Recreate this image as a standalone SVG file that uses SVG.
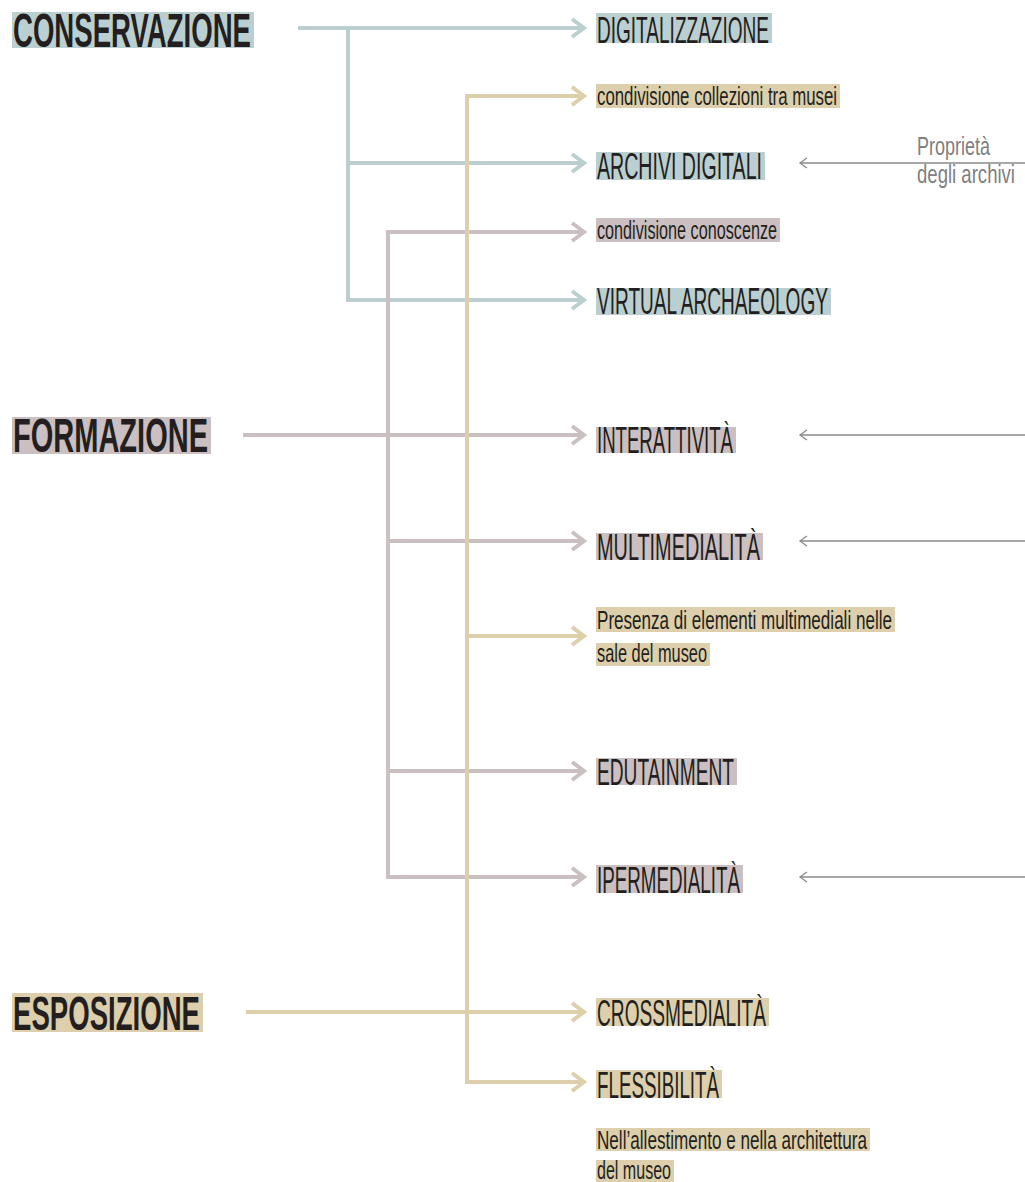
<svg xmlns="http://www.w3.org/2000/svg" width="1025" height="1182" viewBox="0 0 1025 1182">
<style>
text{font-family:"Liberation Sans",Arial,sans-serif;fill:#231f20}
.h{font-size:48px;font-weight:bold}
.m{font-size:37px}
.s{font-size:25px}
.g{font-size:25px;fill:#808080}
.hb{fill:#bbcfd1}
.hp{fill:#cbbfc1}
.hy{fill:#ddcfab}
.cb{stroke:#bbcfd1;stroke-width:4;fill:none;marker-end:url(#ab)}
.vb{stroke:#bbcfd1;stroke-width:4;fill:none}
.cp{stroke:#cbbfc1;stroke-width:4;fill:none;marker-end:url(#ap)}
.vp{stroke:#cbbfc1;stroke-width:4;fill:none}
.cy{stroke:#ddcfab;stroke-width:4;fill:none;marker-end:url(#ay)}
.vy{stroke:#ddcfab;stroke-width:4;fill:none}
.ga{stroke:#8a8a8a;stroke-width:1.3;fill:none;marker-end:url(#ag)}
</style>
<defs>
<marker id="ab" markerUnits="userSpaceOnUse" viewBox="-16 -12 20 24" refX="0" refY="0" markerWidth="20" markerHeight="24" orient="auto"><path d="M-12,-9 L0,0 L-12,9" fill="none" stroke="#bbcfd1" stroke-width="4"/></marker>
<marker id="ap" markerUnits="userSpaceOnUse" viewBox="-16 -12 20 24" refX="0" refY="0" markerWidth="20" markerHeight="24" orient="auto"><path d="M-12,-9 L0,0 L-12,9" fill="none" stroke="#cbbfc1" stroke-width="4"/></marker>
<marker id="ay" markerUnits="userSpaceOnUse" viewBox="-16 -12 20 24" refX="0" refY="0" markerWidth="20" markerHeight="24" orient="auto"><path d="M-12,-9 L0,0 L-12,9" fill="none" stroke="#ddcfab" stroke-width="4"/></marker>
<marker id="ag" markerUnits="userSpaceOnUse" viewBox="-10 -8 12 16" refX="0" refY="0" markerWidth="12" markerHeight="16" orient="auto"><path d="M-7,-5 L0,0 L-7,5" fill="none" stroke="#8a8a8a" stroke-width="1.3"/></marker>
</defs>
<g id="connectors">
<path class="cb" d="M298 28 H584"/>
<path class="vb" d="M348 28 V300"/>
<path class="cb" d="M346 163 H584"/>
<path class="cb" d="M346 300 H584"/>
<path class="vp" d="M388 232 V877"/>
<path class="cp" d="M386 232 H584"/>
<path class="cp" d="M243 435 H584"/>
<path class="cp" d="M386 541 H584"/>
<path class="cp" d="M386 771 H584"/>
<path class="cp" d="M386 877 H584"/>
<path class="vy" d="M467 96 V1082"/>
<path class="cy" d="M465 96 H584"/>
<path class="cy" d="M465 636 H584"/>
<path class="cy" d="M246 1012 H584"/>
<path class="cy" d="M465 1082 H584"/>
<path class="ga" d="M1025 163 H800"/>
<path class="ga" d="M1025 435 H800"/>
<path class="ga" d="M1025 541 H800"/>
<path class="ga" d="M1025 877 H800"/>
</g>
<g id="conservazione"><rect class="hb" x="12" y="12" width="242" height="36"/><text class="h" x="13" y="47" textLength="238" lengthAdjust="spacingAndGlyphs">CONSERVAZIONE</text></g>
<g id="formazione"><rect class="hp" x="12" y="417" width="199" height="37"/><text class="h" x="13" y="452" textLength="195" lengthAdjust="spacingAndGlyphs">FORMAZIONE</text></g>
<g id="esposizione"><rect class="hy" x="12" y="993" width="191" height="39"/><text class="h" x="13" y="1030" textLength="187" lengthAdjust="spacingAndGlyphs">ESPOSIZIONE</text></g>
<g id="digitalizzazione"><rect class="hb" x="596" y="13" width="176" height="30"/><text class="m" x="597" y="43" textLength="172" lengthAdjust="spacingAndGlyphs">DIGITALIZZAZIONE</text></g>
<g id="condivisione-collezioni"><rect class="hy" x="596" y="84" width="244" height="24"/><text class="s" x="597" y="105" textLength="240" lengthAdjust="spacingAndGlyphs">condivisione collezioni tra musei</text></g>
<g id="archivi-digitali"><rect class="hb" x="596" y="152" width="169" height="28"/><text class="m" x="597" y="179" textLength="165" lengthAdjust="spacingAndGlyphs">ARCHIVI DIGITALI</text></g>
<g id="proprieta-archivi"><text class="g" x="917" y="155" textLength="73" lengthAdjust="spacingAndGlyphs">Proprietà</text><text class="g" x="917" y="183" textLength="98" lengthAdjust="spacingAndGlyphs">degli archivi</text></g>
<g id="condivisione-conoscenze"><rect class="hp" x="596" y="218" width="184" height="24"/><text class="s" x="597" y="239" textLength="180" lengthAdjust="spacingAndGlyphs">condivisione conoscenze</text></g>
<g id="virtual-archaeology"><rect class="hb" x="596" y="288" width="235" height="27"/><text class="m" x="597" y="314" textLength="231" lengthAdjust="spacingAndGlyphs">VIRTUAL ARCHAEOLOGY</text></g>
<g id="interattivita"><rect class="hp" x="596" y="427" width="140" height="26"/><text class="m" x="597" y="453" textLength="136" lengthAdjust="spacingAndGlyphs">INTERATTIVITÀ</text></g>
<g id="multimedialita"><rect class="hp" x="596" y="533" width="167" height="27"/><text class="m" x="597" y="560" textLength="163" lengthAdjust="spacingAndGlyphs">MULTIMEDIALITÀ</text></g>
<g id="presenza"><rect class="hy" x="596" y="607" width="299" height="25"/><rect class="hy" x="596" y="643" width="114" height="23"/><text class="s" x="597" y="629" textLength="295" lengthAdjust="spacingAndGlyphs">Presenza di elementi multimediali nelle</text><text class="s" x="597" y="662" textLength="110" lengthAdjust="spacingAndGlyphs">sale del museo</text></g>
<g id="edutainment"><rect class="hp" x="596" y="758" width="141" height="27"/><text class="m" x="597" y="785" textLength="137" lengthAdjust="spacingAndGlyphs">EDUTAINMENT</text></g>
<g id="ipermedialita"><rect class="hp" x="596" y="865" width="147" height="28"/><text class="m" x="597" y="893" textLength="143" lengthAdjust="spacingAndGlyphs">IPERMEDIALITÀ</text></g>
<g id="crossmedialita"><rect class="hy" x="596" y="998" width="173" height="28"/><text class="m" x="597" y="1026" textLength="169" lengthAdjust="spacingAndGlyphs">CROSSMEDIALITÀ</text></g>
<g id="flessibilita"><rect class="hy" x="596" y="1070" width="126" height="28"/><text class="m" x="597" y="1098" textLength="122" lengthAdjust="spacingAndGlyphs">FLESSIBILITÀ</text></g>
<g id="allestimento"><rect class="hy" x="596" y="1128" width="274" height="23"/><rect class="hy" x="596" y="1160" width="78" height="22"/><text class="s" x="597" y="1149" textLength="270" lengthAdjust="spacingAndGlyphs">Nell’allestimento e nella architettura</text><text class="s" x="597" y="1179" textLength="74" lengthAdjust="spacingAndGlyphs">del museo</text></g>
</svg>
